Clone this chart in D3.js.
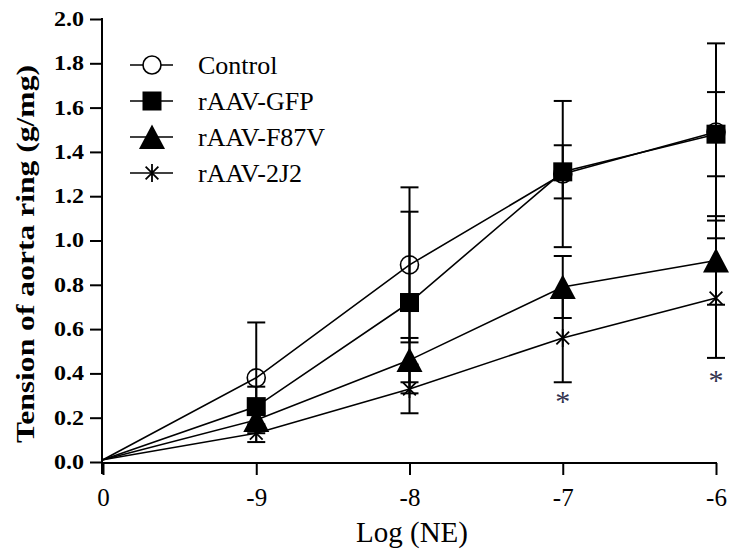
<!DOCTYPE html>
<html><head><meta charset="utf-8">
<script src="https://cdn.jsdelivr.net/npm/d3@7"></script>
<style>
body{margin:0;background:#fff}
svg{display:block}
text{font-family:"Liberation Serif","Times New Roman",serif;fill:#000}
</style>
</head><body>
<svg id="c" width="736" height="560"></svg>
<script>
// ---- data ----
const categories = ["0", "-9", "-8", "-7", "-6"];
const seriesNames = ["Control", "rAAV-GFP", "rAAV-F87V", "rAAV-2J2"];
const controlMean = [0.01, 0.38, 0.89, 1.30, 1.49];
const controlErr  = [0, 0.25, 0.35, 0.33, 0.40];
const gfpMean     = [0.01, 0.25, 0.72, 1.31, 1.48];
const gfpErr      = [0, 0.09, 0.41, 0.12, 0.19];
const f87vMean    = [0.01, 0.19, 0.46, 0.79, 0.91];
const f87vErr     = [0, 0.03, 0.10, 0.14, 0.20];
const j2Mean      = [0.01, 0.13, 0.33, 0.56, 0.74];
const j2Err       = [0, 0.04, 0.11, 0.20, 0.27];
const yTicks = [0, 0.2, 0.4, 0.6, 0.8, 1.0, 1.2, 1.4, 1.6, 1.8, 2.0];
const sigCats = ["-7", "-6"];
const sigLevels = [0.29, 0.385];
const xTitle = "Log (NE)";
const yTitle = "Tension of aorta ring (g/mg)";

const series = [
  {name: seriesNames[0], mean: controlMean, err: controlErr, shape: "circle"},
  {name: seriesNames[1], mean: gfpMean, err: gfpErr, shape: "square"},
  {name: seriesNames[2], mean: f87vMean, err: f87vErr, shape: "triangle"},
  {name: seriesNames[3], mean: j2Mean, err: j2Err, shape: "star"}
];

const svg = d3.select("#c");
const x = d3.scalePoint().domain(categories).range([103, 716]);
const y = d3.scaleLinear().domain([0, 2]).range([462, 19]);

function stretch(sel, f) {
  sel.each(function () {
    const w = this.getComputedTextLength();
    d3.select(this).attr("textLength", w * f).attr("lengthAdjust", "spacingAndGlyphs");
  });
}

// ---- axes ----
const yAxis = svg.append("g").attr("transform", `translate(${x(categories[0]) - 1},0)`)
  .call(d3.axisLeft(y).tickValues(yTicks).tickSize(12).tickSizeOuter(0).tickPadding(6).tickFormat(d3.format(".1f")));
yAxis.select(".domain").remove();
yAxis.selectAll(".tick line").attr("stroke", "#000").attr("stroke-width", 2);
yAxis.selectAll(".tick text").style("font-size", "20px").style("font-weight", "bold")
  .style("font-family", '"Liberation Serif",serif').call(stretch, 1.2);
yAxis.append("line").attr("x1", 0).attr("x2", 0).attr("y1", y(2) - 1).attr("y2", y(0) + 12)
  .attr("stroke", "#000").attr("stroke-width", 2);

const xAxis = svg.append("g").attr("transform", `translate(0,${y(0) + 1})`)
  .call(d3.axisBottom(x).tickSize(12).tickSizeOuter(0).tickPadding(13));
xAxis.select(".domain").remove();
xAxis.append("line").attr("x1", x(categories[0]) - 2).attr("x2", x(categories[4]) + 1)
  .attr("y1", 0).attr("y2", 0).attr("stroke", "#000").attr("stroke-width", 2);
xAxis.selectAll(".tick line").attr("stroke", "#000").attr("stroke-width", 2);
xAxis.selectAll(".tick text").style("font-size", "25px")
  .style("font-family", '"Liberation Serif",serif');

svg.append("text").attr("x", 412).attr("y", 542).attr("text-anchor", "middle")
  .style("font-size", "29px").text(xTitle);
svg.append("text").attr("transform", "translate(34,254) rotate(-90)").attr("text-anchor", "middle")
  .style("font-size", "26px").style("font-weight", "bold")
  .attr("textLength", 378).attr("lengthAdjust", "spacingAndGlyphs").text(yTitle);

// ---- marker drawing ----
function drawMarker(g, shape, cx, cy, legend) {
  if (shape === "circle") {
    g.append("circle").attr("cx", cx).attr("cy", cy).attr("r", 9)
      .attr("fill", legend ? "#fff" : "none").attr("stroke", "#000").attr("stroke-width", 1.6);
  } else if (shape === "square") {
    g.append("rect").attr("x", cx - 9.5).attr("y", cy - 9.5).attr("width", 19).attr("height", 19).attr("fill", "#000");
  } else if (shape === "triangle") {
    g.append("path").attr("d", `M${cx},${cy - 12.5}L${cx + 13},${cy + 12}L${cx - 13},${cy + 12}Z`).attr("fill", "#000");
  } else {
    const r = 9;
    const a = r * Math.cos(Math.PI / 4);
    g.append("path").attr("d",
      `M${cx},${cy - r}L${cx},${cy + r}M${cx - a},${cy - a}L${cx + a},${cy + a}M${cx - a},${cy + a}L${cx + a},${cy - a}`)
      .attr("stroke", "#000").attr("stroke-width", 1.8).attr("fill", "none");
  }
}

// ---- lines ----
const line = d3.line().x((d, i) => x(categories[i])).y(d => y(d));
const plot = svg.append("g");
series.forEach(s => {
  plot.append("path").attr("d", line(s.mean)).attr("fill", "none")
    .attr("stroke", "#000").attr("stroke-width", 1.6);
});

// ---- error bars ----
series.forEach(s => {
  s.mean.forEach((m, i) => {
    const e = s.err[i];
    if (!e) return;
    const cx = x(categories[i]);
    const g = plot.append("g").attr("stroke", "#000").attr("stroke-width", 2);
    g.append("line").attr("x1", cx).attr("x2", cx).attr("y1", y(m - e)).attr("y2", y(m + e));
    g.append("line").attr("x1", cx - 9).attr("x2", cx + 9).attr("y1", y(m + e)).attr("y2", y(m + e));
    g.append("line").attr("x1", cx - 9).attr("x2", cx + 9).attr("y1", y(m - e)).attr("y2", y(m - e));
  });
});

// ---- markers ----
series.forEach(s => {
  s.mean.forEach((m, i) => {
    if (i === 0) return;
    drawMarker(plot, s.shape, x(categories[i]), y(m), false);
  });
});

// ---- significance ----
sigCats.forEach((c, i) => {
  svg.append("text").attr("x", x(c)).attr("y", y(sigLevels[i])).attr("dy", "0.45em")
    .attr("text-anchor", "middle").style("font-size", "30px").style("fill", "#33334f").text("*");
});

// ---- legend ----
const legend = svg.append("g");
series.forEach((s, i) => {
  const ly = 65 + i * 36;
  legend.append("line").attr("x1", 130).attr("x2", 173).attr("y1", ly).attr("y2", ly)
    .attr("stroke", "#000").attr("stroke-width", 1.6);
  drawMarker(legend, s.shape, 152, ly, true);
  legend.append("text").attr("x", 198).attr("y", ly).attr("dy", "0.33em")
    .style("font-size", "26px").text(s.name);
});
</script>
</body></html>
